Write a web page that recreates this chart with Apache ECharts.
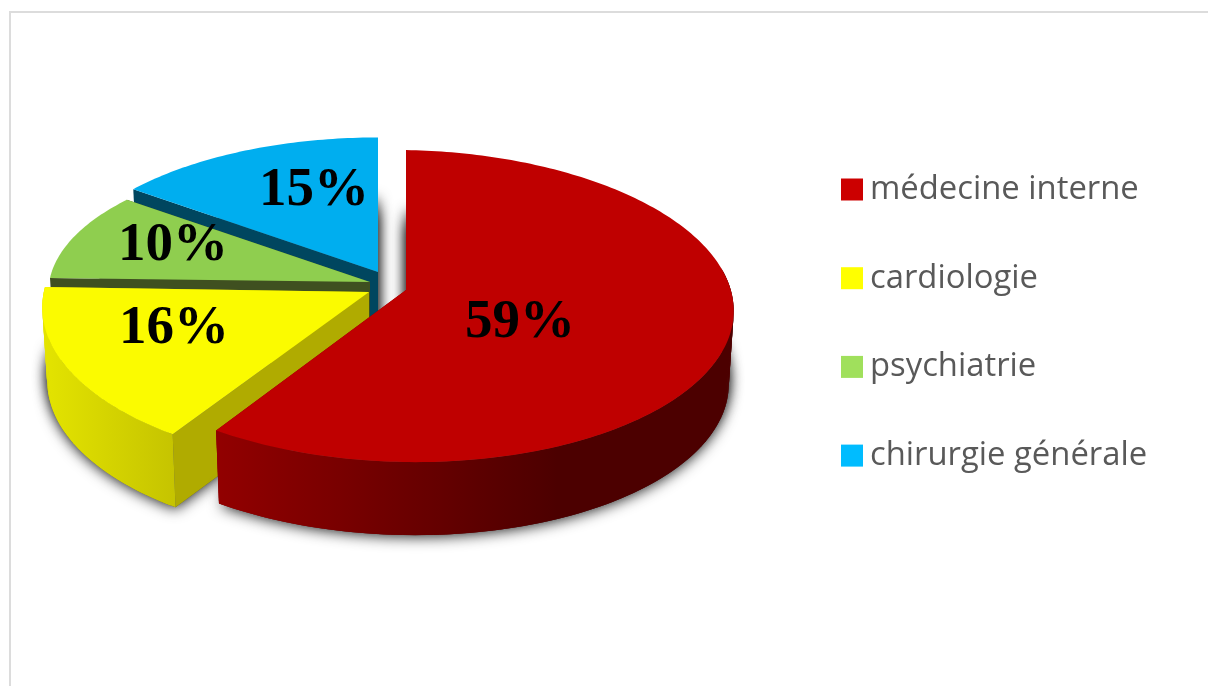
<!DOCTYPE html>
<html>
<head>
<meta charset="utf-8">
<style>
  html, body { margin: 0; padding: 0; background: #fff; }
  #chart { width: 1208px; height: 686px; }
</style>
<script src="https://cdn.jsdelivr.net/npm/echarts@6/dist/echarts.min.js"></script>
</head>
<body>
<div id="chart"></div>
<script>
const CATEGORIES = ["médecine interne", "cardiologie", "psychiatrie", "chirurgie générale"];
const VALUES = [59, 16, 10, 15];

const TOP_COLORS = ["#bf0000", "#fbfb00", "#8fce4f", "#00aeef"];
const FACE_COLORS = ["#7a0000", "#b0ab00", "#3f5020", "#00465f"];
const LEGEND_COLORS = ["#cc0000", "#ffff00", "#a0e05c", "#00bcff"];

// Side wall shading, left to right (x is a fraction of the slice width)
const WALL_STOPS = [
  [[0, "#920000"], [0.66, "#4c0000"], [1, "#4c0000"]],
  [[0, "#e4e400"], [1, "#c6c400"]],
  [[0, "#6f9f3d"], [1, "#6f9f3d"]],
  [[0, "#00465f"], [1, "#00465f"]],
];

// Each slice is pulled out on its own, so each has its own ellipse
const SLICE_LAYOUT = [
  { cx: 406, cy: 290, rx: 326, ry: 156, skewX: 0, skewY: 5 },
  { cx: 369, cy: 292, rx: 324, ry: 158, skewX: -9, skewY: 5 },
  { cx: 370, cy: 282, rx: 320, ry: 143, skewX: 0, skewY: 4 },
  { cx: 378, cy: 272, rx: 322, ry: 150, skewX: 0, skewY: 0 },
];
const LABEL_POS = [[520, 323], [174, 329], [173, 246], [314, 191]];

const DEPTH = 73;
const SHADOW_SHIFT = 60; // top of the drop shadow, below the top face
const PERSPECTIVE = 0.103; // near side of the ellipse draws bigger
const BOTTOM_SCALE = 0.985;
const WALL_FROM = 80 * Math.PI / 180; // walls only show on the near side
const WALL_TO = 270 * Math.PI / 180;

const total = VALUES.reduce((a, b) => a + b, 0);

function sliceAngles(index) {
  const before = VALUES.slice(0, index).reduce((a, b) => a + b, 0);
  return [before / total * Math.PI * 2, (before + VALUES[index]) / total * Math.PI * 2];
}

// angle is clockwise from 12 o'clock
function project(layout, angle, shift, scale) {
  const u = Math.sin(angle);
  const v = -Math.cos(angle);
  const s = 1 + PERSPECTIVE * v;
  return [
    layout.cx + layout.rx * u * s * scale + layout.skewX * v,
    layout.cy + layout.ry * v * s + layout.skewY * u + shift,
  ];
}

function arcPoints(layout, start, end, shift, scale) {
  const steps = Math.max(2, Math.ceil((end - start) / (Math.PI / 180)));
  const pts = [];
  for (let i = 0; i <= steps; i++) {
    pts.push(project(layout, start + (end - start) * i / steps, shift, scale));
  }
  return pts;
}

function poly(points, style) {
  return { type: "polygon", shape: { points: points }, style: style };
}

function renderSlice(index) {
  const layout = SLICE_LAYOUT[index];
  const [start, end] = sliceAngles(index);
  const apex = [layout.cx, layout.cy];
  const topArc = arcPoints(layout, start, end, 0, 1);
  const bottomArc = arcPoints(layout, start, end, DEPTH, BOTTOM_SCALE);
  const xs = topArc.map((p) => p[0]);
  const minX = Math.min(...xs);
  const maxX = Math.max(...xs);

  const shadowStyle = {
    fill: "#555",
    shadowColor: "rgba(0,0,0,0.8)",
    shadowBlur: 14,
    shadowOffsetY: 2,
  };
  const children = [];

  // Drop shadow: the slice outline repeated under the wall, blurred
  [SHADOW_SHIFT, DEPTH].forEach((shift) => {
    const arc = arcPoints(layout, start, end, shift, BOTTOM_SCALE);
    children.push(poly([[apex[0], apex[1] + shift]].concat(arc), shadowStyle));
  });

  // Cut faces
  const faceFill = { fill: FACE_COLORS[index] };
  [topArc.length - 1, 0].forEach((i) => {
    children.push(poly([
      apex,
      topArc[i],
      bottomArc[i],
      [apex[0], apex[1] + DEPTH],
    ], faceFill));
  });

  // Outer wall, one overlapping quad per step so the silhouette stays closed
  const wallFrom = Math.max(start, WALL_FROM);
  const wallTo = Math.min(end, WALL_TO);
  if (wallTo > wallFrom) {
    const wallTop = arcPoints(layout, wallFrom, wallTo, 0, 1);
    const wallBottom = arcPoints(layout, wallFrom, wallTo, DEPTH, BOTTOM_SCALE);
    const wallFill = {
      type: "linear", x: minX, y: 0, x2: maxX, y2: 0, global: true,
      colorStops: WALL_STOPS[index].map((s) => ({ offset: s[0], color: s[1] })),
    };
    for (let i = 0; i < wallTop.length - 1; i++) {
      const j = Math.min(i + 2, wallTop.length - 1);
      children.push(poly([wallTop[i], wallTop[j], wallBottom[j], wallBottom[i]], { fill: wallFill }));
    }
  }

  // Top face and its label
  children.push(poly([apex].concat(topArc), { fill: TOP_COLORS[index] }));
  children.push({
    type: "text",
    style: {
      text: VALUES[index] + "%",
      x: LABEL_POS[index][0],
      y: LABEL_POS[index][1],
      fill: "#000",
      font: 'bold 55px "Liberation Serif"',
      textAlign: "center",
      textVerticalAlign: "middle",
    },
  });

  return { type: "group", children: children };
}

const chart = echarts.init(document.getElementById("chart"));

chart.setOption({
  animation: false,
  backgroundColor: "#fff",
  graphic: [
    {
      type: "rect",
      silent: true,
      shape: { x: 10, y: 12, width: 1400, height: 900 },
      style: { fill: "none", stroke: "#dcdcdc", lineWidth: 2 },
    },
  ],
  legend: {
    orient: "vertical",
    left: 836,
    top: 168,
    icon: "rect",
    itemWidth: 22,
    itemHeight: 22,
    itemGap: 55.7,
    selectedMode: false,
    textStyle: {
      color: "#595959",
      fontFamily: '"Open Sans"',
      fontSize: 32.8,
      lineHeight: 22,
      padding: [0, 0, 0, 2],
    },
    data: CATEGORIES.map((name, i) => ({
      name: name,
      itemStyle: { color: LEGEND_COLORS[i] },
    })),
  },
  series: CATEGORIES.map((name, i) => ({
    name: name,
    type: "custom",
    coordinateSystem: "none",
    z: 10 - i, // first slice sits in front of the later ones
    silent: true,
    itemStyle: { color: TOP_COLORS[i] },
    data: [[VALUES[i]]],
    renderItem: () => renderSlice(i),
  })),
});
</script>
</body>
</html>
